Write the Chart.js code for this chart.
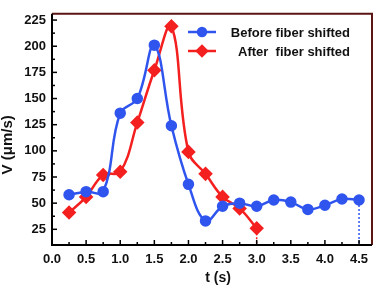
<!DOCTYPE html>
<html><head><meta charset="utf-8">
<script src="https://cdn.jsdelivr.net/npm/chart.js@4/dist/chart.umd.min.js"></script>
<style>html,body{margin:0;padding:0;background:#fff}#wrap{width:380px;height:287px}</style>
</head><body><div id="wrap"><canvas id="c" width="380" height="287"></canvas></div>
<script>
const beforeT = [0.25,0.5,0.75,1.0,1.25,1.5,1.75,2.0,2.25,2.5,2.75,3.0,3.25,3.5,3.75,4.0,4.25,4.5];
const beforeV = [58,61,61,136,150,201,124,68,33,47,50,47,53,51,44,48,54,53];
const afterT = [0.25,0.5,0.75,1.0,1.25,1.5,1.75,2.0,2.25,2.5,2.75,3.0];
const afterV = [41,56,77,80,127,177,219,99,78,56,45,26];
const seriesNames = ['Before fiber shifted', 'After  fiber shifted'];
const xTitle = 't (s)', yTitle = 'V (μm/s)';
const xTickValues = [0,0.5,1.0,1.5,2.0,2.5,3.0,3.5,4.0,4.5];
const yTickValues = [25,50,75,100,125,150,175,200,225];

const BLUE = '#2f55ee', RED = '#f42020';
const FONT = "'Liberation Sans', Arial, sans-serif";

function minorize(vals){ const out=[]; for(let i=0;i<vals.length;i++){ out.push(vals[i]); if(i<vals.length-1) out.push((vals[i]+vals[i+1])/2);} return out; }
function isMajor(list,v){ return list.some(t=>Math.abs(t-v)<1e-6); }

const framePlugin = {
  id:'frame',
  afterDatasetsDraw(chart){
    const {ctx, chartArea:a, scales:{x,y}} = chart;
    ctx.save();
    // drop lines
    ctx.setLineDash([2,2]); ctx.lineWidth=1.5;
    [[afterT,afterV,RED],[beforeT,beforeV,BLUE]].forEach(([t,v,c])=>{
      const px = x.getPixelForValue(t[t.length-1]), py = y.getPixelForValue(v[v.length-1]);
      ctx.strokeStyle=c; ctx.beginPath(); ctx.moveTo(px,py+5); ctx.lineTo(px,a.bottom); ctx.stroke();
    });
    ctx.setLineDash([]);
    // inward ticks
    ctx.strokeStyle='#000'; ctx.lineWidth=1.5;
    x.ticks.forEach(tk=>{
      const px = x.getPixelForValue(tk.value), len = isMajor(xTickValues,tk.value)?5:3;
      ctx.beginPath(); ctx.moveTo(px,a.bottom); ctx.lineTo(px,a.bottom-len); ctx.stroke();
    });
    y.ticks.forEach(tk=>{
      const py = y.getPixelForValue(tk.value), len = isMajor(yTickValues,tk.value)?5:3;
      ctx.beginPath(); ctx.moveTo(a.left,py); ctx.lineTo(a.left+len,py); ctx.stroke();
    });
    // frame
    ctx.lineWidth=2; ctx.strokeStyle='#5a1515';
    ctx.beginPath(); ctx.moveTo(a.left,a.top); ctx.lineTo(a.right,a.top); ctx.lineTo(a.right,a.bottom); ctx.stroke();
    ctx.strokeStyle='#000';
    ctx.beginPath(); ctx.moveTo(a.left,a.top); ctx.lineTo(a.left,a.bottom); ctx.lineTo(a.right,a.bottom); ctx.stroke();
    // axis titles
    ctx.fillStyle='#111'; ctx.textAlign='center'; ctx.textBaseline='middle';
    ctx.font = "bold 14px "+FONT;
    ctx.fillText(xTitle, a.left+166, a.bottom+33);
    ctx.save(); ctx.translate(8, a.top+131); ctx.rotate(-Math.PI/2);
    ctx.font = "bold 15px "+FONT; ctx.fillText(yTitle, 0, 0); ctx.restore();
    // legend
    ctx.font = "bold 13px "+FONT; ctx.textBaseline='middle';
    const lx = a.left+136, tx = a.left+298;
    const rows = [[seriesNames[0],BLUE,'circle',32],[seriesNames[1],RED,'rectRot',51]];
    rows.forEach(([txt,c,ps,ly])=>{
      ctx.strokeStyle=c; ctx.lineWidth=2.5;
      ctx.beginPath(); ctx.moveTo(lx,ly); ctx.lineTo(lx+28,ly); ctx.stroke();
      ctx.fillStyle=c;
      Chart.helpers.drawPoint(ctx,{pointStyle:ps,radius:ps==='circle'?4:5,borderWidth:1},lx+14,ly);
      ctx.fillStyle='#111'; ctx.textAlign='right'; ctx.fillText(txt,tx,ly+1);
    });
    ctx.restore();
  }
};

new Chart(document.getElementById('c'), {
  type:'line',
  data:{datasets:[
    {label:seriesNames[0], data:beforeT.map((t,i)=>({x:t,y:beforeV[i]})), borderColor:BLUE, backgroundColor:BLUE,
     borderWidth:2.5, pointStyle:'circle', pointRadius:4.5, tension:0.4, fill:false},
    {label:seriesNames[1], data:afterT.map((t,i)=>({x:t,y:afterV[i]})), borderColor:RED, backgroundColor:RED,
     borderWidth:2.5, pointStyle:'rectRot', pointRadius:5.5, tension:0.4, fill:false}
  ]},
  options:{
    responsive:false, animation:false, devicePixelRatio:1,
    layout:{padding:{left:0,top:1,right:4,bottom:0}},
    plugins:{legend:{display:false}, tooltip:{enabled:false}},
    scales:{
      x:{type:'linear', min:0, max:4.69,
        afterBuildTicks(s){ s.ticks = minorize(xTickValues).map(v=>({value:v})); },
        afterFit(s){ s.height=42; },
        border:{display:false},
        grid:{display:false, drawTicks:false},
        ticks:{autoSkip:false, maxRotation:0, padding:7, color:'#111', font:{family:FONT,size:13,weight:'bold'},
          callback(v){ return isMajor(xTickValues,v) ? v.toFixed(1) : ''; }},
        title:{display:false}
      },
      y:{type:'linear', min:10, max:231,
        afterBuildTicks(s){ s.ticks = minorize(yTickValues).map(v=>({value:v})); },
        afterFit(s){ s.width=52; },
        border:{display:false},
        grid:{display:false, drawTicks:false},
        ticks:{autoSkip:false, padding:6, color:'#111', font:{family:FONT,size:13,weight:'bold'},
          callback(v){ return isMajor(yTickValues,v) ? String(v) : ''; }},
        title:{display:false}
      }
    }
  },
  plugins:[framePlugin]
});
</script></body></html>
